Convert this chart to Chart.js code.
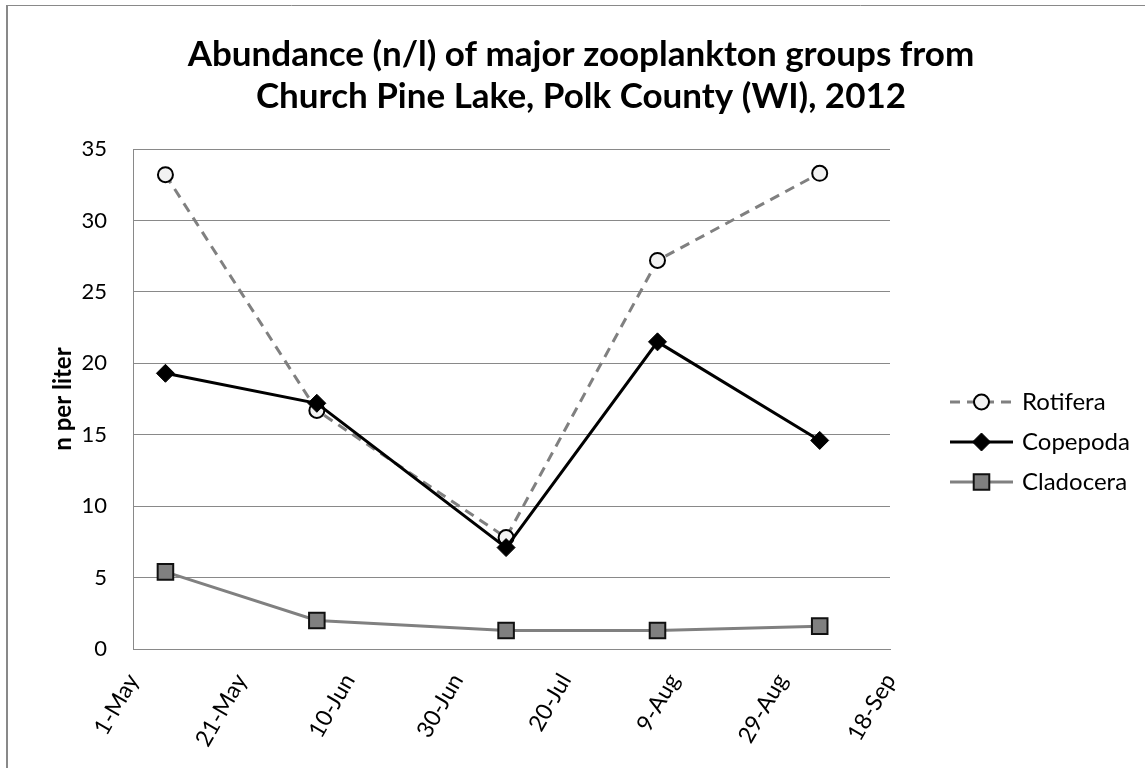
<!DOCTYPE html>
<html>
<head>
<meta charset="utf-8">
<script src="https://cdn.jsdelivr.net/npm/chart.js@4.4.1/dist/chart.umd.min.js"></script>
<style>
  html, body { margin: 0; padding: 0; background: #ffffff; }
  #wrap { width: 1145px; height: 768px; }
</style>
</head>
<body>
<div id="wrap"><canvas id="c" width="1145" height="768"></canvas></div>
<script>
// Sampling dates and abundance (n per liter) for each group
const sampleDates = ['2012-05-07', '2012-06-04', '2012-07-09', '2012-08-06', '2012-09-05'];
const rotifera  = [33.2, 16.7, 7.8, 27.2, 33.3];
const copepoda  = [19.3, 17.2, 7.1, 21.5, 14.6];
const cladocera = [5.4, 2.0, 1.3, 1.3, 1.6];

// Date axis range and tick spacing (days)
const axisStart = '2012-05-01';
const axisEnd = '2012-09-18';
const tickStepDays = 20;
const yMax = 35;
const yStep = 5;

const titleLines = ['Abundance (n/l) of major zooplankton groups from', 'Church Pine Lake, Polk County (WI), 2012'];

const MONTHS = ['Jan','Feb','Mar','Apr','May','Jun','Jul','Aug','Sep','Oct','Nov','Dec'];
const DAY_MS = 86400000;
const toUTC = s => { const [y, m, d] = s.split('-').map(Number); return Date.UTC(y, m - 1, d); };
const startMs = toUTC(axisStart);
const dayOffset = s => Math.round((toUTC(s) - startMs) / DAY_MS);
const dayLabel = off => { const d = new Date(startMs + off * DAY_MS); return d.getUTCDate() + '-' + MONTHS[d.getUTCMonth()]; };

const xs = sampleDates.map(dayOffset);
const pts = vals => vals.map((v, i) => ({ x: xs[i], y: v }));

const FONT = 'Lato, "Open Sans", sans-serif';
const GRID = '#898989';

const datasets = [
  {
    label: 'Rotifera', data: pts(rotifera), order: 1,
    borderColor: '#808080', borderWidth: 3, borderDash: [10, 7],
    pointStyle: 'circle', pointRadius: 7.5, pointBorderWidth: 2,
    pointBackgroundColor: '#f2f2f2', pointBorderColor: '#000000'
  },
  {
    label: 'Copepoda', data: pts(copepoda), order: 0,
    borderColor: '#000000', borderWidth: 3,
    pointStyle: 'rectRot', pointRadius: 9, pointBorderWidth: 1,
    pointBackgroundColor: '#000000', pointBorderColor: '#000000'
  },
  {
    label: 'Cladocera', data: pts(cladocera), order: 2,
    borderColor: '#808080', borderWidth: 3,
    pointStyle: 'rect', pointRadius: 11, pointBorderWidth: 2,
    pointBackgroundColor: '#808080', pointBorderColor: '#111111'
  }
];

// White background, outer frame and the two-line heading
const framePlugin = {
  id: 'frame',
  beforeDraw(chart) {
    const ctx = chart.ctx;
    ctx.save();
    ctx.fillStyle = '#ffffff';
    ctx.fillRect(0, 0, chart.width, chart.height);
    ctx.strokeStyle = GRID;
    ctx.lineWidth = 2;
    ctx.beginPath(); ctx.moveTo(7, 5); ctx.lineTo(7, chart.height); ctx.stroke();
    ctx.lineWidth = 1;
    ctx.beginPath(); ctx.moveTo(7, 5.5); ctx.lineTo(chart.width, 5.5); ctx.stroke();
    ctx.fillStyle = '#000000';
    ctx.font = 'bold 35px ' + FONT;
    ctx.textAlign = 'center';
    ctx.textBaseline = 'middle';
    titleLines.forEach((t, i) => ctx.fillText(t, 581, 55 + i * 42));
    ctx.restore();
  }
};

// Legend with line sample and marker for each series
const lineLegend = {
  id: 'lineLegend',
  afterDraw(chart) {
    const ctx = chart.ctx;
    const x0 = 950, x1 = 1013, tx = 1022, top = 402, gap = 40;
    chart.data.datasets.forEach((ds, i) => {
      const y = top + i * gap;
      ctx.save();
      ctx.strokeStyle = ds.borderColor;
      ctx.lineWidth = ds.borderWidth;
      ctx.setLineDash(ds.borderDash || []);
      ctx.beginPath(); ctx.moveTo(x0, y); ctx.lineTo(x1, y); ctx.stroke();
      ctx.setLineDash([]);
      ctx.fillStyle = ds.pointBackgroundColor;
      ctx.strokeStyle = ds.pointBorderColor;
      ctx.lineWidth = ds.pointBorderWidth;
      Chart.helpers.drawPoint(ctx, {
        pointStyle: ds.pointStyle, radius: ds.pointRadius, borderWidth: ds.pointBorderWidth, rotation: 0
      }, (x0 + x1) / 2, y);
      ctx.fillStyle = '#000000';
      ctx.font = '24px ' + FONT;
      ctx.textBaseline = 'middle';
      ctx.textAlign = 'left';
      ctx.fillText(ds.label, tx, y);
      ctx.restore();
    });
  }
};

new Chart(document.getElementById('c'), {
  type: 'line',
  data: { datasets },
  plugins: [framePlugin, lineLegend],
  options: {
    responsive: false,
    animation: false,
    devicePixelRatio: 1,
    layout: { padding: { left: 0, right: 255, top: 149, bottom: 0 } },
    plugins: {
      legend: { display: false },
      tooltip: { enabled: false },
      title: { display: false }
    },
    scales: {
      x: {
        type: 'linear',
        min: 0,
        max: dayOffset(axisEnd),
        afterFit(scale) { scale.height = 119; },
        border: { display: true, color: GRID, width: 1 },
        grid: { display: false, drawTicks: false },
        ticks: {
          stepSize: tickStepDays,
          autoSkip: false,
          minRotation: 60, maxRotation: 60,
          padding: 20,
          color: '#000000',
          font: { family: FONT, size: 23 },
          callback: v => dayLabel(v)
        }
      },
      y: {
        min: 0, max: yMax,
        afterFit(scale) { scale.width = 133; },
        border: { display: true, color: GRID, width: 1 },
        grid: { color: GRID, lineWidth: 1, drawTicks: false },
        ticks: { stepSize: yStep, padding: 26, color: '#000000', font: { family: FONT, size: 22 } },
        title: {
          display: true, text: 'n per liter', color: '#000000',
          font: { family: FONT, size: 24, weight: 'bold' },
          padding: { top: 49, bottom: 0 }
        }
      }
    }
  }
});
</script>
</body>
</html>
